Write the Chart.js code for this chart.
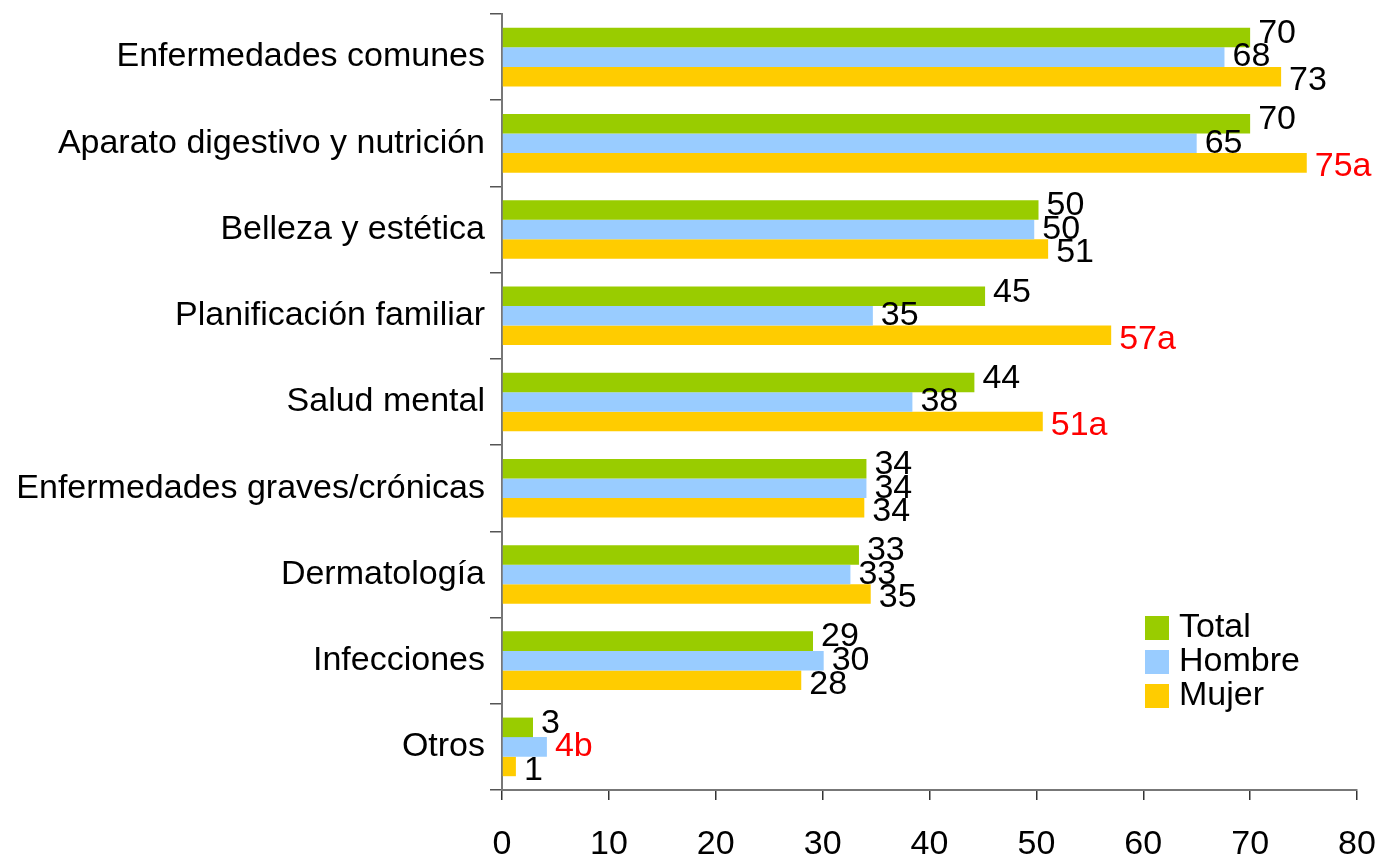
<!DOCTYPE html>
<html>
<head>
<meta charset="utf-8">
<script src="https://cdn.jsdelivr.net/npm/chart.js@4"></script>
<style>
  body { margin: 0; background: #fff; }
  #wrap { width: 1378px; height: 861px; }
</style>
</head>
<body>
<div id="wrap"><canvas id="barChart" width="1378" height="861"></canvas></div>
<script>
const categories = [
    'Enfermedades comunes',
    'Aparato digestivo y nutrición',
    'Belleza y estética',
    'Planificación familiar',
    'Salud mental',
    'Enfermedades graves/crónicas',
    'Dermatología',
    'Infecciones',
    'Otros'
];
const seriesNames = ['Total', 'Hombre', 'Mujer'];

const totalValues  = [70.0, 70.0, 50.2, 45.2, 44.2, 34.1, 33.4, 29.1, 2.9];
const hombreValues = [67.6, 65.0, 49.8, 34.7, 38.4, 34.1, 32.6, 30.1, 4.2];
const mujerValues  = [72.9, 75.3, 51.1, 57.0, 50.6, 33.9, 34.5, 28.0, 1.3];

const totalLabels  = ['70', '70', '50', '45', '44', '34', '33', '29', '3'];
const hombreLabels = ['68', '65', '50', '35', '38', '34', '33', '30', '4b'];
const mujerLabels  = ['73', '75a', '51', '57a', '51a', '34', '35', '28', '1'];

const xTicks = [0, 10, 20, 30, 40, 50, 60, 70, 80];

const colors = ['#99CC00', '#99CCFF', '#FFCC00'];
const allLabels = [totalLabels, hombreLabels, mujerLabels];
const FONT = '"Liberation Sans", Arial, sans-serif';

// value labels at bar ends, red when they carry a significance letter
const valueLabels = {
    id: 'valueLabels',
    afterDatasetsDraw(chart) {
        const ctx = chart.ctx;
        const yShift = [-4, 0, 4];
        ctx.save();
        ctx.font = '34px ' + FONT;
        ctx.textAlign = 'left';
        ctx.textBaseline = 'middle';
        chart.data.datasets.forEach((ds, di) => {
            const meta = chart.getDatasetMeta(di);
            meta.data.forEach((bar, i) => {
                const txt = allLabels[di][i];
                ctx.fillStyle = /[a-z]/.test(txt) ? '#FF0000' : '#000000';
                ctx.fillText(txt, bar.x + 8, bar.y + yShift[di]);
            });
        });
        ctx.restore();
    }
};

// legend box inside the plot, lower right
const insideLegend = {
    id: 'insideLegend',
    afterDraw(chart) {
        const ctx = chart.ctx;
        const x0 = 1145, y0 = 616, step = 34, box = 24;
        ctx.save();
        ctx.font = '34px ' + FONT;
        ctx.textAlign = 'left';
        ctx.textBaseline = 'middle';
        chart.data.datasets.forEach((ds, i) => {
            ctx.fillStyle = ds.backgroundColor;
            ctx.fillRect(x0, y0 + i * step, box, box);
            ctx.fillStyle = '#000';
            ctx.fillText(ds.label, x0 + 34, y0 + i * step + box / 2);
        });
        ctx.restore();
    }
};

// keep the plot box where the reference has it, regardless of label overflow
function noOverflow(scale) {
    scale.paddingTop = 0;
    scale.paddingBottom = 0;
    scale.paddingLeft = 0;
    scale.paddingRight = 0;
}

const chart = new Chart(document.getElementById('barChart'), {
    type: 'bar',
    data: {
        labels: categories,
        datasets: [
            { label: seriesNames[0], data: totalValues, backgroundColor: colors[0] },
            { label: seriesNames[1], data: hombreValues, backgroundColor: colors[1] },
            { label: seriesNames[2], data: mujerValues, backgroundColor: colors[2] }
        ]
    },
    options: {
        indexAxis: 'y',
        responsive: false,
        animation: false,
        categoryPercentage: 0.68,
        barPercentage: 1.0,
        layout: { padding: { top: 14, right: 21, bottom: 0, left: 0 } },
        plugins: {
            legend: { display: false },
            tooltip: { enabled: false }
        },
        scales: {
            x: {
                min: 0,
                max: 80,
                afterBuildTicks: (scale) => { scale.ticks = xTicks.map(v => ({ value: v })); },
                afterFit: (scale) => { scale.height = 71; noOverflow(scale); },
                border: { display: true, color: '#777', width: 2 },
                grid: {
                    display: true,
                    drawOnChartArea: false,
                    drawTicks: true,
                    tickLength: 10,
                    color: '#333',
                    lineWidth: 1.5
                },
                ticks: {
                    color: '#000',
                    padding: 24,
                    font: { family: FONT, size: 34 }
                }
            },
            y: {
                afterFit: (scale) => { scale.width = 502; noOverflow(scale); },
                border: { display: true, color: '#777', width: 2 },
                grid: {
                    display: true,
                    offset: true,
                    drawOnChartArea: false,
                    drawTicks: true,
                    tickLength: 12,
                    color: '#555',
                    lineWidth: 1.5
                },
                ticks: {
                    color: '#000',
                    padding: 5,
                    font: { family: FONT, size: 34 }
                }
            }
        }
    },
    plugins: [valueLabels, insideLegend]
});
</script>
</body>
</html>
